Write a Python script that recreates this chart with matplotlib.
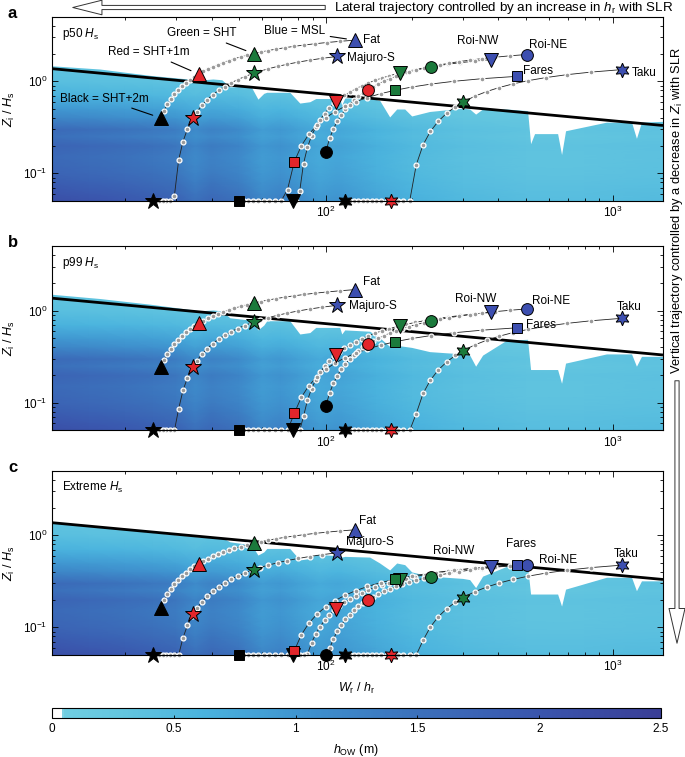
import numpy as np
import matplotlib
matplotlib.use("Agg")
import matplotlib.pyplot as plt
from matplotlib.colors import LinearSegmentedColormap, Normalize
from matplotlib.cm import ScalarMappable
from matplotlib.patches import FancyArrowPatch
import matplotlib.ticker as mticker

plt.rcParams['font.family'] = ['Liberation Sans', 'DejaVu Sans']
plt.rcParams['mathtext.fontset'] = 'custom'
plt.rcParams['mathtext.rm'] = 'Liberation Sans'
plt.rcParams['mathtext.it'] = 'Liberation Sans:italic'
plt.rcParams['mathtext.bf'] = 'Liberation Sans:bold'

# ---------------- data ----------------
sites = ['Fat', 'Majuro-S', 'Roi-NW', 'Roi-NE', 'Fares', 'Taku']
reef_width = [100.9, 89.6, 268.5, 351.1, 139.8, 383.4]      # W_r (m)
reef_depth = [0.80, 0.82, 0.71, 0.70, 0.30, 0.354]          # h_r at MSL (m)
island_elev = [3.50, 2.27, 2.70, 3.08, 1.70, 1.652]          # Z_i at MSL (m)
spring_tide = [1.00, 0.78, 0.77, 0.81, 0.50, 0.92]           # SHT above MSL (m)
hs_p50 = [1.25, 1.22, 1.567, 1.575, 1.50, 1.231]
hs_p99 = [2.06, 1.98, 2.81, 2.94, 2.60, 1.99]
hs_ext = [3.05, 3.52, 5.90, 6.40, 3.60, 3.48]
panel_letters = ['a', 'b', 'c']
panel_titles = [r'p50 $H_{\rm s}$', r'p99 $H_{\rm s}$', r'Extreme $H_{\rm s}$']
slr_steps = [0.0, 0.1, 0.2, 0.3, 0.4, 0.5, 0.6, 0.7, 0.8, 0.9, 1.0, 1.1, 1.2,
             1.3, 1.4, 1.5, 1.6, 1.7, 1.8, 1.9, 2.0, 2.1, 2.2, 2.3, 2.4, 2.5,
             2.6, 2.7, 2.8, 2.9, 3.0]
level_offsets = [None, 0.0, 1.0, 2.0]   # added to SHT (MSL = 0)
zi_floor = 0.05

thresh_x = [11, 1500]
thresh_y = [1.375, 0.331]

# upper limit of the overwash region, one boundary per panel
bound_x = [10.9, 16.3, 24.4, 36.4, 40.4, 43.4, 46.3, 53.1, 55.2, 58.0, 60.8,
           62.3, 74.9, 81.2, 88.0, 92.3, 111.9, 113.7, 116.5, 142.3, 154.2,
           167.1, 176.8, 188.5, 199.4, 230.3, 300.2, 317.6, 333.2, 352.4, 427.3,
           505.6, 518.0, 534.8, 643.5, 664.3, 685.9, 952.9, 1165, 1212, 1262, 1600]
bound_y_a = [1.48, 1.36, 1.16, 1.03, 1.06, 1.04, 0.87, 0.88, 0.85, 0.64, 0.74,
             0.76, 0.76, 0.58, 0.60, 0.65, 0.65, 0.55, 0.66, 0.66, 0.62,
             0.41, 0.50, 0.50, 0.42, 0.47, 0.51, 0.50, 0.44, 0.50, 0.50,
             0.48, 0.21, 0.27, 0.27, 0.16, 0.29, 0.36, 0.36, 0.24, 0.36, 0.37]
bound_y_b = [1.52, 1.36, 1.18, 1.00, 1.02, 1.00, 0.84, 0.80, 0.78, 0.62, 0.70,
             0.78, 0.78, 0.56, 0.58, 0.66, 0.66, 0.56, 0.62, 0.60, 0.51,
             0.41, 0.42, 0.41, 0.40, 0.36, 0.34, 0.33, 0.25, 0.33, 0.48,
             0.49, 0.23, 0.23, 0.23, 0.163, 0.27, 0.34, 0.34, 0.25, 0.32, 0.32]
bound_y_c = [1.40, 1.25, 1.08, 0.96, 0.96, 0.95, 0.85, 0.80, 0.78, 0.61, 0.66,
             0.72, 0.72, 0.54, 0.56, 0.62, 0.60, 0.58, 0.59, 0.58, 0.50,
             0.42, 0.50, 0.48, 0.40, 0.36, 0.34, 0.33, 0.27, 0.36, 0.46,
             0.46, 0.23, 0.23, 0.23, 0.17, 0.26, 0.35, 0.35, 0.25, 0.32, 0.32]

# overwash depth field (hOW, m): row profile x column factor
field_x = [11, 15, 20, 25, 30, 35, 40, 50, 60, 70, 80, 95, 110, 150, 200,
           300, 500, 800, 1500]
field_col = [1.15, 1.10, 1.05, 1.0, 0.95, 0.82, 0.90, 0.82, 0.65, 0.70, 0.62,
             0.52, 0.56, 0.44, 0.35, 0.28, 0.24, 0.24, 0.26]
field_y = [0.05, 0.06, 0.08, 0.10, 0.12, 0.15, 0.20, 0.25, 0.30, 0.40, 0.50,
           0.70, 1.0, 1.6]
field_row = [1.85, 1.75, 1.60, 1.50, 1.45, 1.40, 1.50, 1.30, 1.40, 1.05, 0.85,
             0.55, 0.36, 0.28]

cbar_ticks = [0, 0.5, 1, 1.5, 2, 2.5]
cbar_labels = ['0', '0.5', '1', '1.5', '2', '2.5']

# ---------------- styles ----------------
site_markers = ['^', '*', 'v', 'o', 's', (6, 1, 0)]
site_ms = [9.5, 12, 9.5, 8.5, 7.5, 10.5]
level_colors = ['#3d4fb0', '#1b7a3c', '#e3262b', '#000000']
label_offsets = [
    {'Fat': (6, 0, 'left'), 'Majuro-S': (7.7, -1, 'left'), 'Roi-NW': (-9.6, 13.4, 'center'),
     'Roi-NE': (1.7, 7.2, 'left'), 'Fares': (3.8, 4.1, 'left'), 'Taku': (6.5, -2.2, 'left')},
    {'Fat': (6, 5.5, 'left'), 'Majuro-S': (8.9, -0.7, 'left'), 'Roi-NW': (-11.3, 10, 'center'),
     'Roi-NE': (3.6, 5.5, 'left'), 'Fares': (6.5, 1.7, 'left'), 'Taku': (4.8, 8.4, 'center')},
    {'Fat': (3.2, 6, 'left'), 'Majuro-S': (6.5, 7.7, 'left'), 'Roi-NW': (-26.9, 11, 'center'),
     'Roi-NE': (22.8, 3.4, 'center'), 'Fares': (2.9, 15.1, 'center'), 'Taku': (2.4, 7.7, 'center')},
]

cmap = LinearSegmentedColormap.from_list('how', [
    (0.0, '#ffffff'), (0.013, '#ffffff'), (0.016, '#70cee1'),
    (0.12, '#62c5df'), (0.24, '#4bb4de'), (0.40, '#3f95d0'),
    (0.60, '#3b70bb'), (0.80, '#3a55ad'), (1.0, '#3a3e96')])
norm = Normalize(0, 2.5)

W = 685
H = 757
fig = plt.figure(figsize=(W / 100, H / 100), dpi=100)

def fx(px):
    return px / W

def fy(py):
    return 1 - py / H

panel_tops = [17, 246.5, 471]
panel_h = 184
ax_left, ax_right = 52, 663

hs_panels = [hs_p50, hs_p99, hs_ext]
bounds = [bound_y_a, bound_y_b, bound_y_c]
Z = np.outer(field_row, field_col)

for p in range(3):
    top = panel_tops[p]
    ax = fig.add_axes([fx(ax_left), fy(top + panel_h), fx(ax_right - ax_left), panel_h / H])
    ax.set_xscale('log')
    ax.set_yscale('log')
    ax.set_xlim(11.1, 1500)
    ax.set_ylim(0.05, 5.0)

    ax.pcolormesh(field_x, field_y, Z, shading='gouraud', cmap=cmap, norm=norm,
                  zorder=0, rasterized=True)
    ax.fill_between(bound_x, bounds[p], 100, color='white', lw=0, zorder=1)
    ax.plot(thresh_x, thresh_y, color='black', lw=2.0, zorder=2, solid_capstyle='butt')

    hs = hs_panels[p]
    for i, name in enumerate(sites):
        Wr, h0, z0, sht, Hs = reef_width[i], reef_depth[i], island_elev[i], spring_tide[i], hs[i]
        s_end = sht + 2.0
        s_dots = [s for s in slr_steps if s <= s_end + 1e-9]
        s_mark = [0.0] + [sht + o for o in level_offsets[1:]]
        s_line = sorted(set(s_dots + s_mark))

        def tr(s):
            return Wr / (h0 + s), max((z0 - s) / Hs, zi_floor)

        ln = np.array([tr(s) for s in s_line])
        dt = np.array([tr(s) for s in s_dots])
        mk = np.array([tr(s) for s in s_mark])
        ax.plot(ln[:, 0], ln[:, 1], color='#222222', lw=0.6, zorder=3, clip_on=False)
        ax.plot(dt[:, 0], dt[:, 1], ls='none', marker='o', ms=3.5, mfc='#9a9a9a',
                mec='white', mew=0.9, zorder=3.5, clip_on=False)
        for k in [3, 2, 1, 0]:
            ax.plot(mk[k, 0], mk[k, 1], ls='none', marker=site_markers[i], ms=site_ms[i],
                    mfc=level_colors[k], mec='black', mew=0.7, zorder=5, clip_on=False)
        dx, dy, ha = label_offsets[p][name]
        ax.annotate(name, xy=(mk[0, 0], mk[0, 1]), xytext=(dx, dy), textcoords='offset points',
                    ha=ha, va='center', fontsize=8.5, zorder=6)
        if p == 0 and name == 'Fat':
            fat_marks = mk

    if p == 0:
        legend_txt = ['Blue = MSL', 'Green = SHT', 'Red = SHT+1m', 'Black = SHT+2m']
        legend_pos = [(78, 3.51), (36.9, 3.31), (24.2, 2.06), (16.85, 0.648)]
        for k in range(4):
            ax.annotate(legend_txt[k], xy=(fat_marks[k, 0], fat_marks[k, 1]),
                        xytext=legend_pos[k], textcoords='data', ha='center', va='center',
                        fontsize=8.5, zorder=6,
                        arrowprops=dict(arrowstyle='-', lw=0.8, color='black',
                                        shrinkA=1.5, shrinkB=6))

    ax.text(0.016, 0.91, panel_titles[p], transform=ax.transAxes, ha='left', va='center',
            fontsize=8.5)
    ax.tick_params(which='both', direction='in', top=True, right=True, labelsize=8.5, width=0.6)
    ax.tick_params(which='major', length=4)
    ax.tick_params(which='minor', length=2.5)
    ax.tick_params(axis='x', which='major', pad=3)
    ax.xaxis.set_minor_formatter(mticker.NullFormatter())
    ax.yaxis.set_minor_formatter(mticker.NullFormatter())
    for sp in ax.spines.values():
        sp.set_linewidth(0.8)
        sp.set_zorder(7)
    ax.set_ylabel(r'$Z_{\rm i}$ / $H_{\rm s}$', fontsize=9, labelpad=4)
    fig.text(fx(8), fy(top - 4), panel_letters[p], fontsize=12, fontweight='bold',
             ha='left', va='center')

fig.text(fx(357), fy(688), r'$W_{\rm r}$ / $h_{\rm r}$', ha='center', va='center', fontsize=9)

# colorbar
cax = fig.add_axes([fx(52), fy(718), fx(661 - 52), 10 / H])
cb = fig.colorbar(ScalarMappable(norm=norm, cmap=cmap), cax=cax, orientation='horizontal')
cb.set_ticks(cbar_ticks)
cb.set_ticklabels(cbar_labels)
cb.ax.tick_params(labelsize=8.5, length=2.5, direction='in', width=0.6)
cb.outline.set_linewidth(0.8)
fig.text(fx(356), fy(750), r'$h_{\rm OW}$ (m)', ha='center', va='center', fontsize=9)

# trajectory arrows
arr_top = FancyArrowPatch(posA=(fx(328), fy(7.5)), posB=(fx(70), fy(7.5)),
                          transform=fig.transFigure,
                          arrowstyle='simple,head_length=21,head_width=10.5,tail_width=3',
                          mutation_scale=1, fc='white', ec='#333333', lw=0.7)
fig.patches.append(arr_top)
fig.text(fx(334), fy(7.5), r'Lateral trajectory controlled by an increase in $h_{\rm r}$ with SLR',
         ha='left', va='center', fontsize=9.6)
arr_right = FancyArrowPatch(posA=(fx(677), fy(378)), posB=(fx(677), fy(646)),
                            transform=fig.transFigure,
                            arrowstyle='simple,head_length=25,head_width=11.5,tail_width=3',
                            mutation_scale=1, fc='white', ec='#333333', lw=0.7)
fig.patches.append(arr_right)
fig.text(fx(677), fy(210), r'Vertical trajectory controlled by a decrease in $Z_{\rm i}$ with SLR',
         ha='center', va='center', rotation=90, fontsize=9.3)

fig.savefig('out.png', dpi=100)
